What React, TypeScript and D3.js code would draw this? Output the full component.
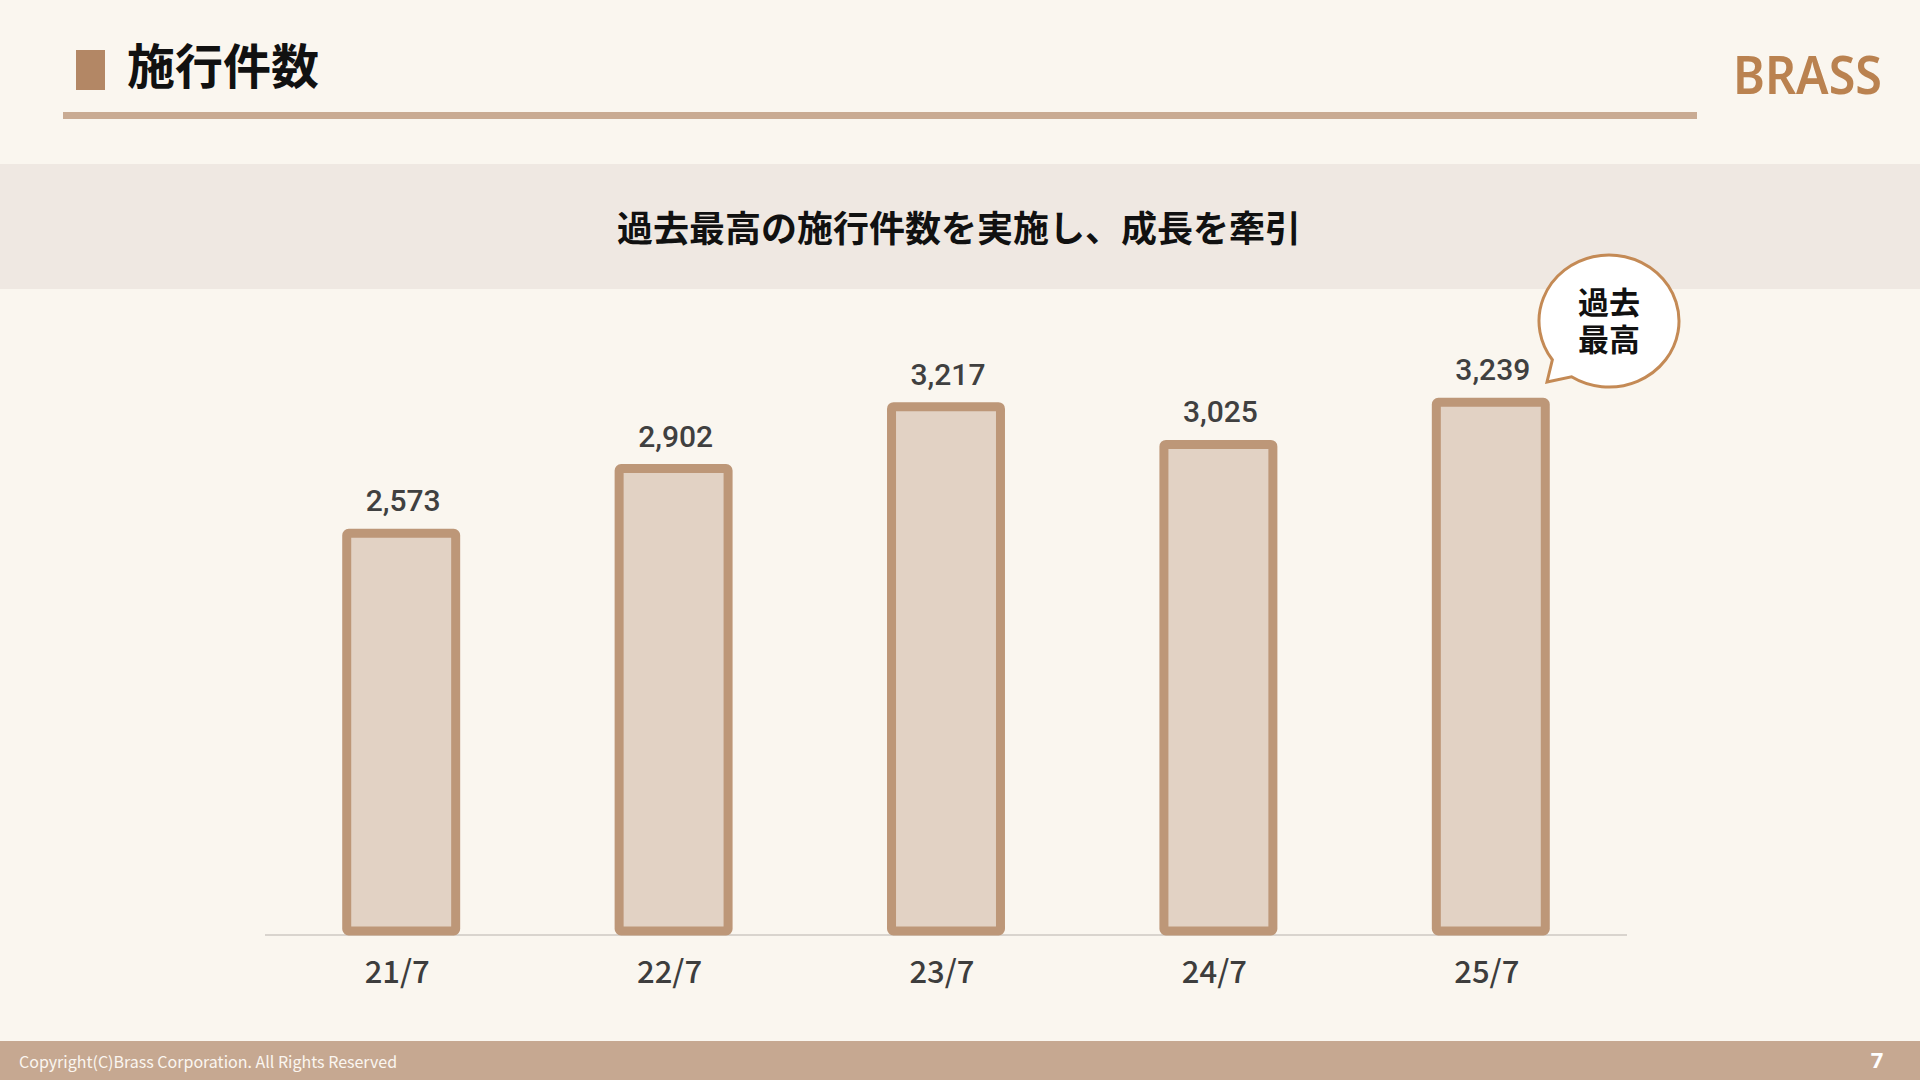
import React from "react";
import * as d3 from "d3";

const categories = ["21/7", "22/7", "23/7", "24/7", "25/7"];
const values = [2573, 2902, 3217, 3025, 3239];
const title = "施行件数";
const headline = "過去最高の施行件数を実施し、成長を牽引";
const bubbleLines = ["過去", "最高"];
const footerText = "Copyright(C)Brass Corporation. All Rights Reserved";
const pageNumber = "7";
const logoText = "BRASS";

const W = 1920;
const H = 1080;
const JP = "'Noto Sans CJK JP', 'Noto Sans', sans-serif";

export default function App() {
  const x = d3
    .scaleBand<string>()
    .domain(categories)
    .range([265, 1627])
    .paddingInner(0.6)
    .paddingOuter(0.3);
  const y = d3.scaleLinear().domain([550, 3500]).range([931, 351]);
  const fmt = d3.format(",");
  const sw = 9;

  // speech bubble geometry
  const bcx = 1609, bcy = 321, brx = 70, bry = 66;
  const a1 = Math.atan2((376 - bcy) / bry, (1572 - bcx) / brx);
  const a2 = Math.atan2((360 - bcy) / bry, (1552 - bcx) / brx);
  const p1 = [bcx + brx * Math.cos(a1), bcy + bry * Math.sin(a1)];
  const p2 = [bcx + brx * Math.cos(a2), bcy + bry * Math.sin(a2)];
  const tip = [1547, 382];
  const bubblePath = `M${p1[0]},${p1[1]} A${brx},${bry} 0 1 0 ${p2[0]},${p2[1]} L${tip[0]},${tip[1]} Z`;

  return (
    <svg
      width={W}
      height={H}
      viewBox={`0 0 ${W} ${H}`}
      style={{ position: "absolute", left: 0, top: 0, display: "block" }}
    >
      <rect x={0} y={0} width={W} height={H} fill="#faf6ef" />

      {/* header */}
      <rect x={76} y={50} width={29} height={40} fill="#b38765" />
      <text
        x={127}
        y={63}
        fontFamily={JP}
        fontWeight={700}
        fontSize={48}
        fill="#111"
        dominantBaseline="central"
      >
        {title}
      </text>
      <rect x={63} y={112} width={1634} height={7} fill="#c9ab93" />
      <text
        x={1733}
        y={94}
        fontFamily="'Noto Sans', sans-serif"
        fontWeight={600}
        fontSize={52}
        fill="#ba8250"
        textLength={149}
        lengthAdjust="spacingAndGlyphs"
      >
        {logoText}
      </text>

      {/* banner */}
      <rect x={0} y={164} width={W} height={125} fill="#efe8e2" />
      <text
        x={959}
        y={226}
        textAnchor="middle"
        dominantBaseline="central"
        fontFamily={JP}
        fontWeight={700}
        fontSize={36}
        fill="#111"
      >
        {headline}
      </text>

      {/* baseline */}
      <line x1={265} x2={1627} y1={935} y2={935} stroke="#d9d4ce" strokeWidth={2} />

      {/* bars */}
      {categories.map((c, i) => {
        const bx = x(c)!;
        const bw = x.bandwidth();
        const top = y(values[i]);
        return (
          <g key={c}>
            <rect
              x={bx}
              y={top}
              width={bw}
              height={y(550) - top}
              fill="#e2d2c4"
              stroke="#bd9778"
              strokeWidth={sw}
              rx={2}
            />
            <text
              x={bx + bw / 2 + 2}
              y={top - 22}
              textAnchor="middle"
              fontFamily="Roboto, sans-serif"
              fontWeight={500}
              fontSize={30}
              fill="#404040"
            >
              {fmt(values[i])}
            </text>
            <text
              x={bx + bw / 2 - 4}
              y={983}
              textAnchor="middle"
              fontFamily={JP}
              fontWeight={500}
              fontSize={31}
              fill="#3d3d3d"
            >
              {c}
            </text>
          </g>
        );
      })}

      {/* bubble */}
      <path d={bubblePath} fill="#ffffff" stroke="#c48a55" strokeWidth={3} strokeLinejoin="miter" />
      <text
        textAnchor="middle"
        dominantBaseline="central"
        fontFamily={JP}
        fontWeight={700}
        fontSize={31}
        fill="#111"
      >
        {bubbleLines.map((t, i) => (
          <tspan key={t} x={bcx} y={300 + i * 37}>
            {t}
          </tspan>
        ))}
      </text>

      {/* footer */}
      <rect x={0} y={1041} width={W} height={39} fill="#c6a891" />
      <text
        x={19}
        y={1068}
        fontFamily={JP}
        fontWeight={400}
        fontSize={16}
        fill="#fbf6f0"
      >
        {footerText}
      </text>
      <text
        x={1877}
        y={1068}
        textAnchor="middle"
        fontFamily="'Noto Sans', sans-serif"
        fontWeight={700}
        fontSize={22}
        fill="#ffffff"
      >
        {pageNumber}
      </text>
    </svg>
  );
}
